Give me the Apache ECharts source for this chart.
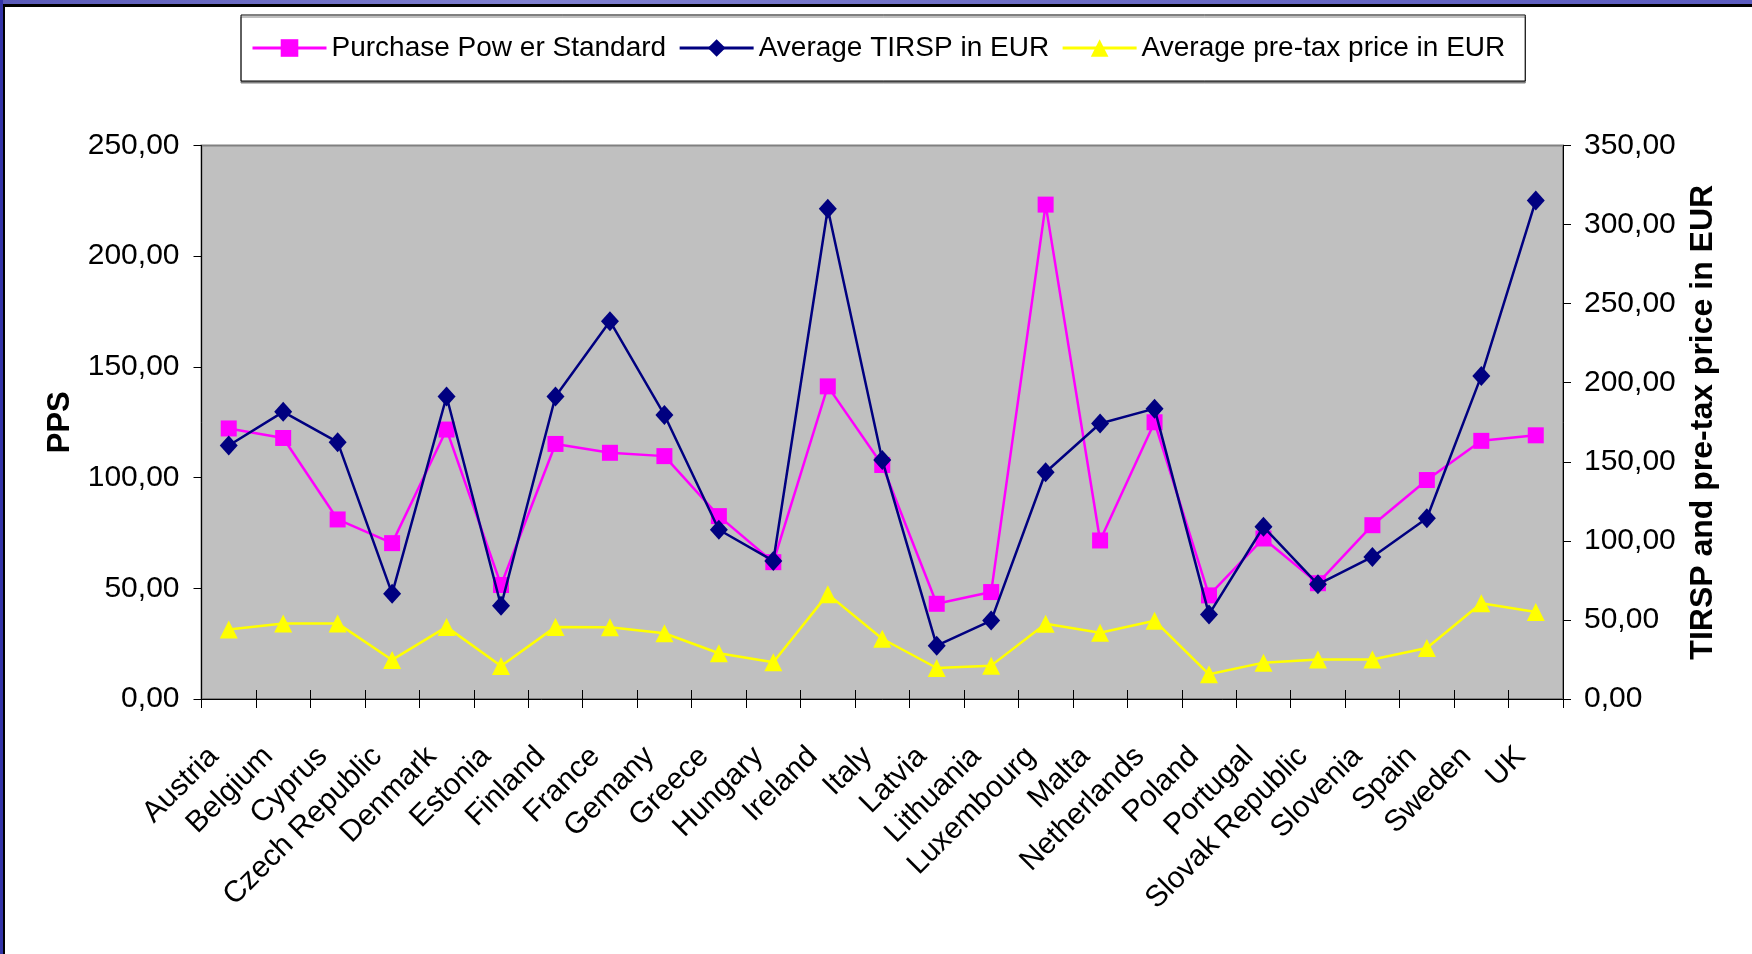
<!DOCTYPE html>
<html>
<head>
<meta charset="utf-8">
<title>PPS, TIRSP and pre-tax price by country</title>
<script src="https://cdn.jsdelivr.net/npm/echarts@6/dist/echarts.min.js"></script>
<style>
  html, body { margin: 0; padding: 0; background: #ffffff; }
  #chart { width: 1752px; height: 954px; }
</style>
</head>
<body>
<div id="chart"></div>
<script>
// Countries along the category axis
const countries = [
  'Austria', 'Belgium', 'Cyprus', 'Czech Republic', 'Denmark', 'Estonia',
  'Finland', 'France', 'Gemany', 'Greece', 'Hungary', 'Ireland', 'Italy',
  'Latvia', 'Lithuania', 'Luxembourg', 'Malta', 'Netherlands', 'Poland',
  'Portugal', 'Slovak Republic', 'Slovenia', 'Spain', 'Sweden', 'UK'
];

// Purchase Power Standard (left axis)
const ppsValues = [
  122.2, 117.9, 81.1, 70.4, 121.7, 51.5, 115.2, 111.2, 109.7, 82.6,
  61.8, 141.2, 105.7, 43.0, 48.3, 223.3, 71.6, 125.0, 46.8, 72.5,
  52.3, 78.5, 98.9, 116.6, 119.1
];

// Average TIRSP in EUR (right axis)
const tirspValues = [
  160.3, 181.6, 162.4, 66.6, 191.3, 59.0, 191.3, 238.9, 179.6, 107.0,
  87.3, 310.0, 151.1, 33.7, 49.6, 143.4, 174.2, 183.6, 53.5, 108.9,
  72.5, 89.8, 114.3, 204.3, 315.2
];

// Average pre-tax price in EUR (right axis)
const preTaxValues = [
  44.0, 47.8, 47.8, 24.7, 45.6, 20.8, 45.6, 45.3, 41.6, 28.9,
  23.2, 66.3, 38.1, 19.6, 21.1, 47.6, 41.9, 49.5, 15.6, 23.0,
  25.0, 25.0, 32.2, 60.6, 55.0
];

const seriesNames = ['Purchase Pow er Standard', 'Average TIRSP in EUR', 'Average pre-tax price in EUR'];
const leftAxisName = 'PPS';
const rightAxisName = 'TIRSP and pre-tax price in EUR';

const FONT = '"Liberation Sans", Arial, Helvetica, sans-serif';
const fmt = v => v.toFixed(2).replace('.', ',');

const chart = echarts.init(document.getElementById('chart'), null, { renderer: 'canvas' });

const option = {
  backgroundColor: '#ffffff',
  animation: false,
  textStyle: { fontFamily: FONT, color: '#000' },
  graphic: [
    // slide frame along the top and left edges
    { type: 'rect', left: 0, top: 0, shape: { width: 1752, height: 4 },
      style: { fill: new echarts.graphic.LinearGradient(0, 0, 1, 0, [
        { offset: 0, color: '#5a5ab8' }, { offset: 0.3, color: '#8080d0' },
        { offset: 0.6, color: '#6c6cc4' }, { offset: 1, color: '#5c5cc0' }]) }, z: 100 },
    { type: 'rect', left: 0, top: 4, shape: { width: 1752, height: 3 }, style: { fill: '#000' }, z: 100 },
    { type: 'rect', left: 0, top: 0, shape: { width: 3, height: 954 }, style: { fill: '#3434a8' }, z: 100 },
    { type: 'rect', left: 3, top: 4, shape: { width: 2, height: 950 }, style: { fill: '#000' }, z: 100 }
  ],
  legend: {
    data: seriesNames,
    left: 241,
    top: 15,
    padding: [19, 20, 19, 10],
    itemGap: 12,
    itemWidth: 74,
    itemHeight: 22,
    backgroundColor: '#ffffff',
    borderColor: '#000000',
    borderWidth: 1,
    borderRadius: 0,
    shadowColor: '#808080',
    shadowBlur: 0,
    shadowOffsetX: 0,
    shadowOffsetY: 2,
    lineStyle: { width: 3 },
    textStyle: { fontFamily: FONT, fontSize: 28, color: '#000' }
  },
  grid: {
    left: 201.5,
    right: 189,
    top: 145.5,
    bottom: 255,
    show: true,
    backgroundColor: '#c0c0c0',
    borderColor: '#808080',
    borderWidth: 2
  },
  xAxis: [
    {
      type: 'category',
      data: countries,
      boundaryGap: true,
      axisLine: { show: true, lineStyle: { color: '#000', width: 1 } },
      axisTick: { show: true, alignWithLabel: false, interval: 0, length: 9, lineStyle: { color: '#000', width: 1 } },
      axisLabel: {
        interval: 0, rotate: 45, margin: 38,
        padding: [0, 21, 0, 0],
        fontFamily: FONT, fontSize: 30, color: '#000'
      },
      splitLine: { show: false }
    },
    {
      // inner half of the crossing category ticks
      type: 'category',
      data: countries,
      position: 'bottom',
      boundaryGap: true,
      axisLine: { show: false },
      axisTick: { show: true, inside: true, interval: 0, length: 9, lineStyle: { color: '#000', width: 1 } },
      axisLabel: { show: false },
      splitLine: { show: false }
    }
  ],
  yAxis: [
    {
      type: 'value',
      min: 0, max: 250, interval: 50,
      position: 'left',
      name: leftAxisName,
      nameLocation: 'middle',
      nameRotate: 90,
      nameGap: 126,
      nameTextStyle: { fontFamily: FONT, fontSize: 31, fontWeight: 'bold', color: '#000' },
      axisLine: { show: true, lineStyle: { color: '#000', width: 1 } },
      axisTick: { show: true, length: 8, lineStyle: { color: '#000' } },
      axisLabel: { formatter: fmt, margin: 22, fontFamily: FONT, fontSize: 30, color: '#000' },
      splitLine: { show: false }
    },
    {
      type: 'value',
      min: 0, max: 350, interval: 50,
      position: 'right',
      name: rightAxisName,
      nameLocation: 'middle',
      nameRotate: 90,
      nameGap: 124,
      nameTextStyle: { fontFamily: FONT, fontSize: 32, fontWeight: 'bold', color: '#000' },
      axisLine: { show: true, lineStyle: { color: '#000', width: 1 } },
      axisTick: { show: true, length: 8, lineStyle: { color: '#000' } },
      axisLabel: { formatter: fmt, margin: 21, fontFamily: FONT, fontSize: 30, color: '#000' },
      splitLine: { show: false }
    }
  ],
  series: [
    {
      name: seriesNames[0],
      type: 'line',
      yAxisIndex: 0,
      data: ppsValues,
      symbol: 'rect',
      symbolSize: 16,
      lineStyle: { color: '#ff00ff', width: 2.5 },
      itemStyle: { color: '#ff00ff' },
      z: 2
    },
    {
      name: seriesNames[1],
      type: 'line',
      yAxisIndex: 1,
      data: tirspValues,
      symbol: 'diamond',
      symbolSize: [18, 20],
      lineStyle: { color: '#000080', width: 2.5 },
      itemStyle: { color: '#000080' },
      z: 3
    },
    {
      name: seriesNames[2],
      type: 'line',
      yAxisIndex: 1,
      data: preTaxValues,
      symbol: 'triangle',
      symbolSize: [18, 18],
      lineStyle: { color: '#ffff00', width: 2.5 },
      itemStyle: { color: '#ffff00' },
      z: 2
    }
  ]
};

chart.setOption(option);
</script>
</body>
</html>
